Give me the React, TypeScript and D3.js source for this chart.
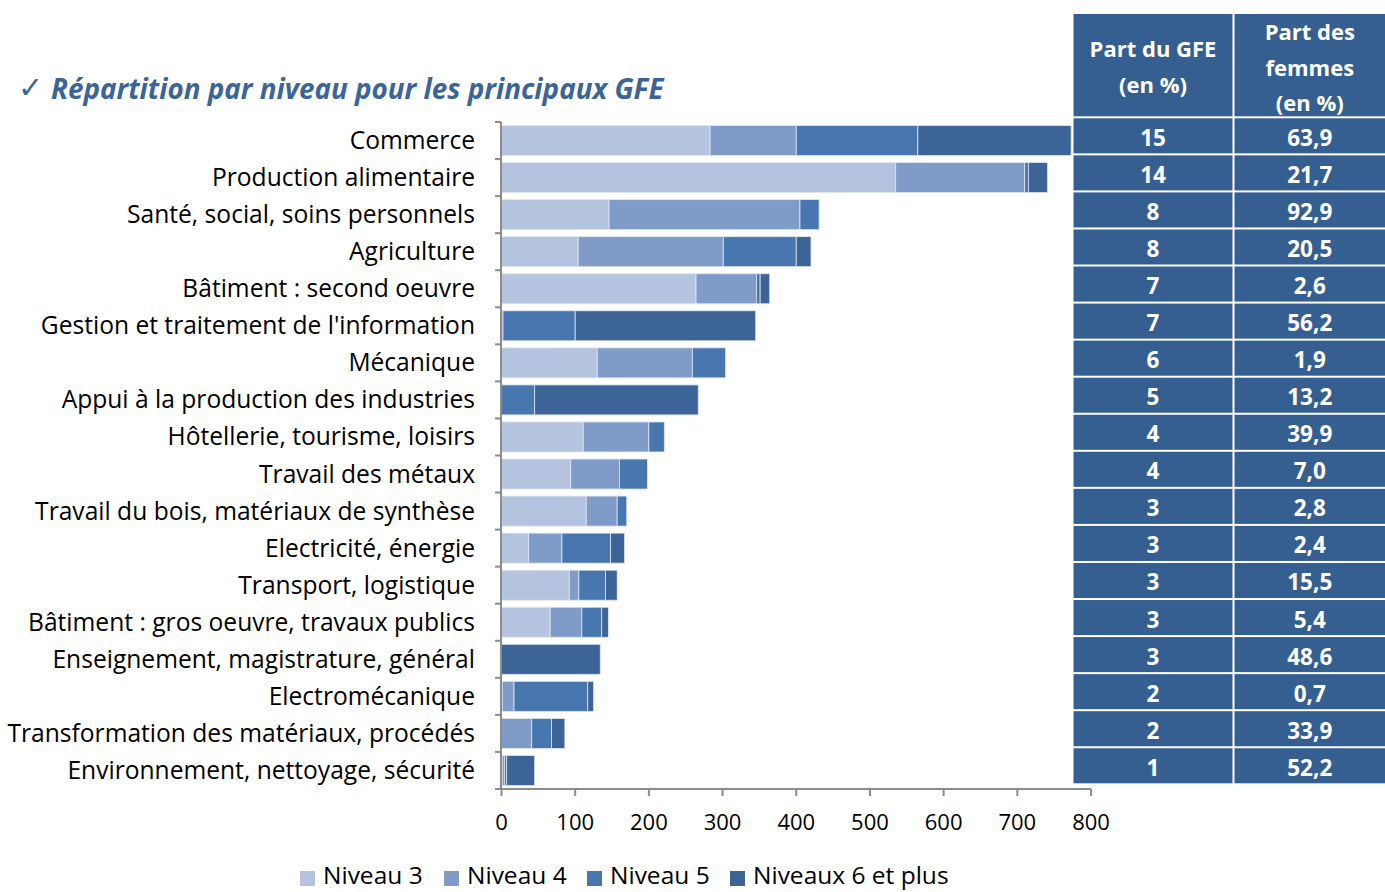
import React from "react";
import * as d3 from "d3";

const categories = [
  "Commerce",
  "Production alimentaire",
  "Santé, social, soins personnels",
  "Agriculture",
  "Bâtiment : second oeuvre",
  "Gestion et traitement de l'information",
  "Mécanique",
  "Appui à la production des industries",
  "Hôtellerie, tourisme, loisirs",
  "Travail des métaux",
  "Travail du bois, matériaux de synthèse",
  "Electricité, énergie",
  "Transport, logistique",
  "Bâtiment : gros oeuvre, travaux publics",
  "Enseignement, magistrature, général",
  "Electromécanique",
  "Transformation des matériaux, procédés",
  "Environnement, nettoyage, sécurité",
];

const niveau3 = [283, 535, 146, 104, 264, 0, 130, 0, 111, 94, 115, 37, 92, 66, 0, 1, 0, 1];
const niveau4 = [117, 175, 259, 197, 82, 2, 129, 0, 89, 66, 42, 45, 13, 43, 0, 16, 41, 3];
const niveau5 = [165, 5, 26, 99, 5, 98, 45, 45, 21, 38, 13, 66, 36, 27, 0, 100, 27, 3];
const niveau6 = [208, 26, 0, 20, 13, 245, 0, 222, 0, 0, 0, 19, 16, 9, 134, 8, 18, 38];

const partGFE = ["15", "14", "8", "8", "7", "7", "6", "5", "4", "4", "3", "3", "3", "3", "3", "2", "2", "1"];
const partFemmes = ["63,9", "21,7", "92,9", "20,5", "2,6", "56,2", "1,9", "13,2", "39,9", "7,0", "2,8", "2,4", "15,5", "5,4", "48,6", "0,7", "33,9", "52,2"];

const seriesNames = ["Niveau 3", "Niveau 4", "Niveau 5", "Niveaux 6 et plus"];
const xTicks = [0, 100, 200, 300, 400, 500, 600, 700, 800];

const colors = ["#b4c3de", "#7f9cc8", "#4877b0", "#3c6496"];
const FONT = "'Open Sans', 'Noto Sans', sans-serif";

export default function App() {
  const W = 1385;
  const H = 892;
  const x = d3.scaleLinear().domain([0, 800]).range([501.5, 1091]);
  const y = d3
    .scaleBand<string>()
    .domain(categories)
    .range([122, 789])
    .paddingInner(0.19)
    .paddingOuter(0.095);
  const yRow = d3.scaleBand<string>().domain(categories).range([117.3, 784.3]);

  const rows = categories.map((c, i) => ({
    cat: c,
    n3: niveau3[i],
    n4: niveau4[i],
    n5: niveau5[i],
    n6: niveau6[i],
  }));
  const stack = d3.stack<any>().keys(["n3", "n4", "n5", "n6"])(rows);

  const step = y.step();
  const bandStart = 122;
  const boundaries = d3.range(categories.length + 1).map((i) => bandStart + i * step);

  const col1 = [1073.5, 1232.5];
  const col2 = [1234.5, 1385];
  const headerTop = 14;
  const headerBottom = 117.3;

  const legendX = [300, 444, 587, 730];

  return (
    <svg
      width={W}
      height={H}
      style={{ position: "absolute", left: 0, top: 0, background: "#fff" }}
      fontFamily={FONT}
    >
      {/* Title */}
      <text x={18} y={99} fontSize={27.8} fill="#3b6497" fontStyle="italic" fontWeight="bold">
        <tspan fontFamily="'DejaVu Sans', sans-serif" fontWeight="normal" fontStyle="normal" fontSize={30} y={98}>✓</tspan>
        <tspan x={51} y={99}>Répartition par niveau pour les principaux GFE</tspan>
      </text>

      {/* Bars */}
      {stack.map((s, si) => (
        <g key={si} fill={colors[si]}>
          {s.map((d, i) =>
            d[1] - d[0] > 0 ? (
              <rect
                key={i}
                x={x(d[0])}
                y={y(categories[i])}
                width={x(d[1]) - x(d[0])}
                height={y.bandwidth()}
                stroke="#dfe6f1"
                strokeWidth={0.8}
              />
            ) : null
          )}
        </g>
      ))}

      {/* Left axis */}
      <line x1={501} x2={501} y1={bandStart} y2={bandStart + categories.length * step} stroke="#8c8c8c" strokeWidth={2} />
      {boundaries.map((b, i) => (
        <line key={i} x1={495} x2={501} y1={b} y2={b} stroke="#8c8c8c" strokeWidth={2} />
      ))}
      {categories.map((c) => (
        <text
          key={c}
          x={475}
          y={(y(c) as number) + y.bandwidth() / 2 + 8.5}
          textAnchor="end"
          fontSize={24.6}
          fill="#000"
        >
          {c}
        </text>
      ))}

      {/* Bottom axis */}
      <line x1={500} x2={1091} y1={789} y2={789} stroke="#8c8c8c" strokeWidth={2} />
      {xTicks.map((t) => (
        <g key={t}>
          <line x1={x(t)} x2={x(t)} y1={789} y2={796} stroke="#8c8c8c" strokeWidth={2} />
          <text x={x(t)} y={830} textAnchor="middle" fontSize={22} fill="#000">
            {t}
          </text>
        </g>
      ))}

      {/* Table header */}
      <rect x={col1[0]} y={headerTop} width={col1[1] - col1[0]} height={headerBottom - headerTop - 1} fill="#365f91" />
      <rect x={col2[0]} y={headerTop} width={col2[1] - col2[0]} height={headerBottom - headerTop - 1} fill="#365f91" />
      <g fill="#fff" fontWeight="bold" fontSize={22} textAnchor="middle">
        <text x={(col1[0] + col1[1]) / 2} y={57}>Part du GFE</text>
        <text x={(col1[0] + col1[1]) / 2} y={93}>(en %)</text>
        <text x={(col2[0] + col2[1]) / 2} y={40}>Part des</text>
        <text x={(col2[0] + col2[1]) / 2} y={76}>femmes</text>
        <text x={(col2[0] + col2[1]) / 2} y={111}>(en %)</text>
      </g>

      {/* Table rows */}
      {categories.map((c, i) => {
        const ry = yRow(c) as number;
        const rh = yRow.bandwidth();
        return (
          <g key={c}>
            <rect x={col1[0]} y={ry + 1} width={col1[1] - col1[0]} height={rh - 2} fill="#365f91" />
            <rect x={col2[0]} y={ry + 1} width={col2[1] - col2[0]} height={rh - 2} fill="#365f91" />
            <text x={(col1[0] + col1[1]) / 2} y={ry + rh / 2 + 10} textAnchor="middle" fontSize={22.5} fontWeight="bold" fill="#fff">
              {partGFE[i]}
            </text>
            <text x={(col2[0] + col2[1]) / 2} y={ry + rh / 2 + 10} textAnchor="middle" fontSize={22.5} fontWeight="bold" fill="#fff">
              {partFemmes[i]}
            </text>
          </g>
        );
      })}

      {/* Legend */}
      {seriesNames.map((n, i) => (
        <g key={n}>
          <rect x={legendX[i]} y={871} width={15} height={15} fill={colors[i]} />
          <text x={legendX[i] + 23} y={884} fontSize={24.5} fill="#000">
            {n}
          </text>
        </g>
      ))}
    </svg>
  );
}
